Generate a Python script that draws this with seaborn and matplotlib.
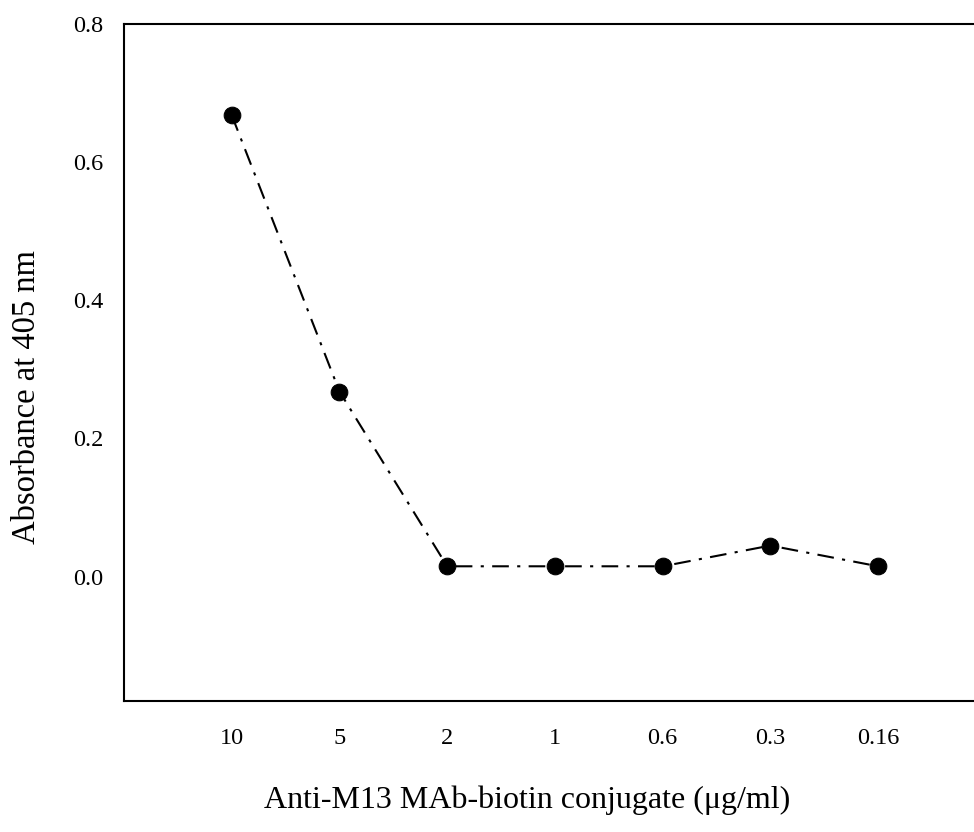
import matplotlib
matplotlib.use("Agg")
import matplotlib.pyplot as plt
import seaborn as sns

# Dados
concentracoes = ["10", "5", "2", "1", "0.6", "0.3", "0.16"]
absorbancia = [0.668, 0.268, 0.015, 0.015, 0.015, 0.045, 0.015]

sns.set_style("white")
plt.rcParams['font.family'] = ['Liberation Serif', 'DejaVu Serif']

fig = plt.figure(figsize=(9.74, 8.32), dpi=100)
ax = fig.add_axes([124 / 974, 1 - 701 / 832, 850 / 974, 677 / 832])

sns.lineplot(x=concentracoes, y=absorbancia, ax=ax, sort=False,
             color='black', linestyle='-.', linewidth=1.5,
             marker='o', markersize=12, markeredgecolor='black',
             markerfacecolor='black')
ax.lines[0].set_dashes((8, 4, 1.5, 4))

ax.set_xlim(-1, 6.89)
ax.set_ylim(-0.18, 0.8)
ax.set_yticks([0.0, 0.2, 0.4, 0.6, 0.8])
ax.set_yticklabels(["0.0", "0.2", "0.4", "0.6", "0.8"])

for s in ['left', 'bottom', 'top']:
    ax.spines[s].set_color('black')
    ax.spines[s].set_linewidth(1.5)
ax.spines['right'].set_visible(False)

ax.tick_params(axis='both', direction='out', length=6.5, width=1.5,
               color='black', labelsize=17.5, labelcolor='black')
ax.tick_params(axis='x', pad=13)
ax.tick_params(axis='y', pad=8.5)

ax.set_xlabel("Anti-M13 MAb-biotin conjugate (\u03bcg/ml)", fontsize=23, color='black')
ax.set_ylabel("Absorbance at 405 nm", fontsize=23.5, color='black')
ax.xaxis.set_label_coords((527 - 124) / 850, -0.125)
ax.yaxis.set_label_coords((42 - 124) / 850, (701 - 397) / 677)

fig.savefig("out.png", dpi=100)
